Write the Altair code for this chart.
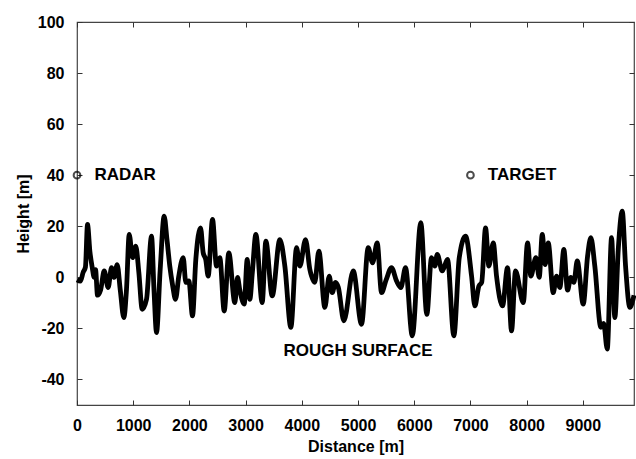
import altair as alt
import pandas as pd

# Surface profile (distance [m], height [m])
distance = [0, 60, 110, 150, 187, 230, 270, 306, 330, 365, 420, 484, 555, 614, 662, 715, 770, 833, 880, 929,
             988, 1046, 1100, 1160, 1237, 1326, 1370, 1415, 1480, 1551, 1600, 1651, 1700, 1753, 1811, 1890,
             1936, 1990, 2055, 2114, 2198, 2245, 2290, 2334, 2411, 2482, 2541, 2619, 2701, 2808, 2856, 2897,
             2975, 3028, 3075, 3120, 3182, 3295, 3360, 3473, 3609, 3698, 3805, 3906, 3965, 4066, 4143, 4173,
             4230, 4303, 4410, 4487, 4541, 4600, 4650, 4748, 4915, 5062, 5181, 5258, 5341, 5418, 5500, 5596,
             5685, 5762, 5845, 5965, 6117, 6224, 6308, 6367, 6409, 6498, 6592, 6705, 6801, 6913, 7020, 7079,
             7150, 7200, 7269, 7328, 7406, 7464, 7571, 7660, 7731, 7802, 7940, 8016, 8075, 8164, 8224, 8278,
             8330, 8384, 8473, 8532, 8591, 8662, 8728, 8786, 8840, 8900, 9007, 9084, 9142, 9213, 9320, 9370,
             9434, 9511, 9569, 9630, 9701, 9760, 9836, 9910]
height = [-1, -1.5, 2, 4, 20.7, 10, 4, 0, 3, -7, -5, 2.5, -4, 3.8, 0, 5, -5, -15.8, -5, 16.8,
          7.7, 12.2, 2, -12.5, -8.6, 16.1, -5, -21.6, 3, 24, 15, 4.4, -3, -8.6, 0.5, 7.7,
          -2, -1.4, -15.1, 7, 19.4, 9.6, 7, 0.5, 22.7, 4.4, 7.7, -13.2, 9.6, -9.9, 0, -5,
          -10.5, 7, -8.6, 2, 16.8, -9.9, 14.2, -7.3, 14.8, 4.4, -19.6, 11.6, 4.4, 14.8, 3.1, 0.5,
          -2, 10.3, -11.8, 0.5, -6, -2, -4, -17, 2.5, -18.4, 11.6, 5.7, 13.5, -6, -1, 3.8,
          -1.4, -4, 3.8, -22.9, 21.4, -14.5, 7.7, 4.4, 9, 2.5, 7, -22.9, 7.7, 16.1, 0.5, -11.2,
          -3.4, -2, 19.4, 4.4, 13.5, 0.5, -11.2, 3.8, -21, 2.5, -9.9, 13.5, 0.5, 7.7, 0, 16.8,
          5, 13.5, -6, 0.5, -4, 10.9, -5, 0, -2, 6.4, -10.5, 8.3, 15.5, 4.4, -19.6, -18,
          -28.1, 15.5, -15.8, 10.9, 25.9, 4.4, -11.8, -7]

# Markers and labels
marker_x = [0, 7000]
marker_y = [40, 40]
label_text = ["RADAR", "TARGET", "ROUGH SURFACE"]
label_x = [311, 7310, 5000]
label_y = [40, 40, -29]
label_align = ["left", "left", "center"]

x_ticks = [0, 1000, 2000, 3000, 4000, 5000, 6000, 7000, 8000, 9000]
y_ticks = [-40, -20, 0, 20, 40, 60, 80, 100]
x_domain = [0, 9910]
y_domain = [-50, 100]

surface = pd.DataFrame({"d": distance, "h": height})
markers = pd.DataFrame({"d": marker_x, "h": marker_y})
labels = pd.DataFrame({"d": label_x, "h": label_y, "t": label_text, "a": label_align})

FONT = "Liberation Sans"
PLAIN = "'' + datum.value"

def xs():
    return alt.Scale(domain=x_domain, nice=False, zero=False)

def ys():
    return alt.Scale(domain=y_domain, nice=False, zero=False)

common_axis = dict(domain=False, grid=False, tickSize=5, offset=-5, tickColor="#333", labelExpr=PLAIN,
                   labelFont=FONT, labelFontSize=16, labelFontWeight="bold", labelColor="black",
                   titleFont=FONT, titleFontSize=16, titleFontWeight="bold", titleColor="black")

line = alt.Chart(surface).mark_line(color="black", strokeWidth=4.8, interpolate="monotone").encode(
    x=alt.X("d:Q", scale=xs(), axis=alt.Axis(values=x_ticks, title="Distance [m]", labelPadding=12,
                                            titlePadding=5, labelFlush=False, **common_axis)),
    y=alt.Y("h:Q", scale=ys(), axis=alt.Axis(values=y_ticks, title="Height [m]", labelPadding=13,
                                            titlePadding=6, **common_axis)),
)

pts = alt.Chart(markers).mark_point(shape="circle", filled=False, color="black", size=45, strokeWidth=2).encode(
    x=alt.X("d:Q", scale=xs(), axis=alt.Axis(orient="top", values=x_ticks, labels=False, title=None,
                                            domain=False, grid=False, tickSize=5, offset=-5, tickColor="#333")),
    y=alt.Y("h:Q", scale=ys(), axis=alt.Axis(orient="right", values=y_ticks, labels=False, title=None,
                                            domain=False, grid=False, tickSize=5, offset=-5, tickColor="#333")),
)

txt_left = alt.Chart(labels[labels["a"] == "left"]).mark_text(
    align="left", baseline="middle", font=FONT, fontSize=17, fontWeight="bold", color="black"
).encode(
    x=alt.X("d:Q", scale=xs(), axis=None),
    y=alt.Y("h:Q", scale=ys(), axis=None),
    text="t:N",
)

txt_center = alt.Chart(labels[labels["a"] == "center"]).mark_text(
    align="center", baseline="middle", font=FONT, fontSize=17, fontWeight="bold", color="black"
).encode(
    x=alt.X("d:Q", scale=xs(), axis=None),
    y=alt.Y("h:Q", scale=ys(), axis=None),
    text="t:N",
)

chart = alt.layer(line, pts, txt_left, txt_center).resolve_scale(
    x="independent", y="independent"
).properties(
    width=557, height=383,
    autosize=alt.AutoSizeParams(type="none"),
    padding={"left": 77, "top": 22, "right": 2, "bottom": 54},
    background="white",
).configure_view(stroke="#444", strokeWidth=1.2)

chart.save("out.html", embed_options={"renderer": "svg", "actions": False})
